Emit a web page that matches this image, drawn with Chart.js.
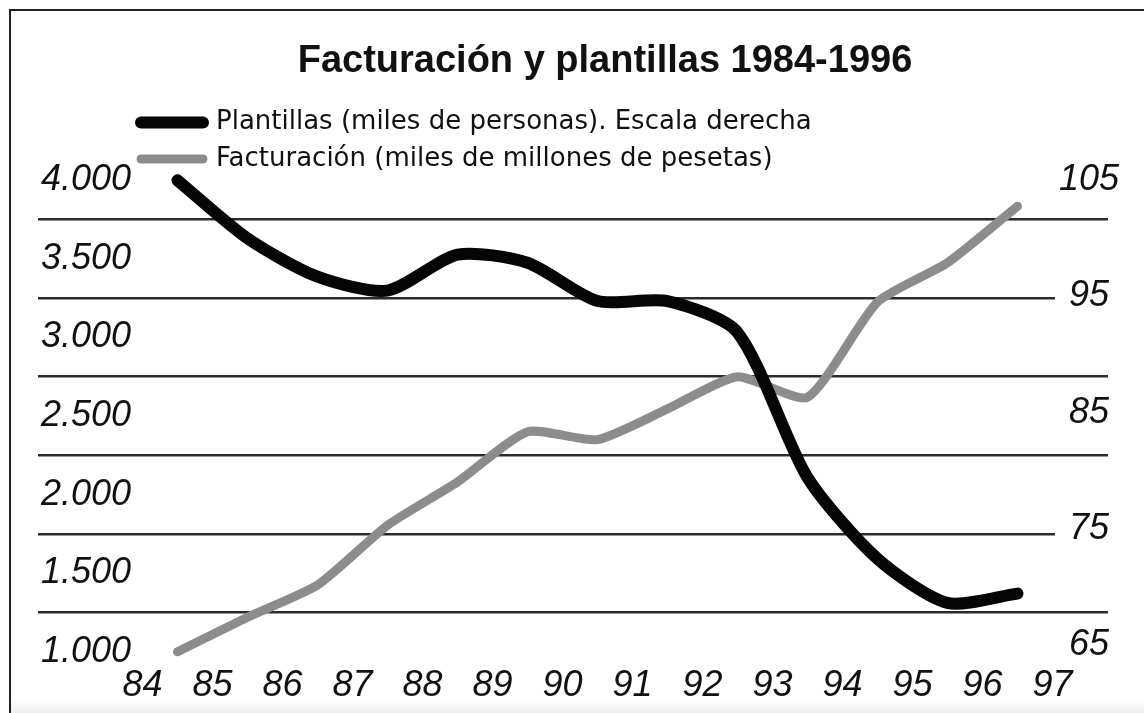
<!DOCTYPE html>
<html lang="es">
<head>
<meta charset="utf-8">
<title>Facturación y plantillas 1984-1996</title>
<script src="https://cdn.jsdelivr.net/npm/chart.js@4.4.1/dist/chart.umd.min.js"></script>
<style>
  html, body { margin: 0; padding: 0; background: #fff; }
  #marco { position: relative; width: 1144px; height: 713px; overflow: hidden; }
  #marco::before { content: ''; position: absolute; left: 9px; top: 9px; right: 0; bottom: 0;
    border-top: 2px solid #222; border-left: 2px solid #222; }
  #marco::after { content: ''; position: absolute; left: 11px; right: 0; bottom: 0; height: 14px;
    background: linear-gradient(#fff, #eeeeee); }
  canvas { position: absolute; left: 0; top: 0; }
</style>
</head>
<body>
<div id="marco"><canvas id="grafico" width="1144" height="713"></canvas></div>
<script>
// años: cada punto va a mitad de su año en el eje
const anios = [84, 85, 86, 87, 88, 89, 90, 91, 92, 93, 94, 95, 96];

// plantillas, miles de personas (escala derecha)
const plantillas = [105.0, 100.0, 96.7, 95.5, 98.6, 97.9, 94.6, 94.6, 91.9, 79.4, 72.4, 68.6, 69.4];

// facturación, miles de millones de pesetas (escala izquierda)
const facturacion = [1000, 1220, 1425, 1805, 2080, 2400, 2350, 2545, 2750, 2620, 3225, 3475, 3835];

const ticksX = [84, 85, 86, 87, 88, 89, 90, 91, 92, 93, 94, 95, 96, 97];
const ticksIzq = [1000, 1500, 2000, 2500, 3000, 3500, 4000];
const lineasGuia = [1250, 1750, 2250, 2750, 3250, 3750];
const ticksDer = [65, 75, 85, 95, 105];

function miles(v) {
  return String(v).replace(/\B(?=(\d{3})+(?!\d))/g, '.');
}

const fuenteEje = { family: "'Liberation Sans', Arial, sans-serif", size: 36, style: 'italic' };

// el título y la leyenda van desplazados respecto al área del gráfico
const recolocar = {
  id: 'recolocar',
  afterLayout(chart) {
    const t = chart.titleBlock;
    t.left += 24; t.right += 24;
    const l = chart.legend;
    l.left += 98.5; l.right += 98.5;
    l.top += 12; l.bottom += 12;
  }
};

const ctx = document.getElementById('grafico');

new Chart(ctx, {
  type: 'line',
  data: {
    datasets: [
      {
        label: 'Plantillas (miles de personas). Escala derecha',
        data: anios.map((a, i) => ({ x: a + 0.5, y: plantillas[i] })),
        yAxisID: 'yDer',
        borderColor: '#050505',
        backgroundColor: '#050505',
        borderWidth: 12,
        borderJoinStyle: 'round',
        borderCapStyle: 'round',
        tension: 0.25,
        pointRadius: 0,
        fill: false,
        clip: false
      },
      {
        label: 'Facturación (miles de millones de pesetas)',
        data: anios.map((a, i) => ({ x: a + 0.5, y: facturacion[i] })),
        yAxisID: 'yIzq',
        borderColor: '#8c8c8c',
        backgroundColor: '#8c8c8c',
        borderWidth: 9,
        borderJoinStyle: 'round',
        borderCapStyle: 'round',
        tension: 0.2,
        pointRadius: 0,
        fill: false,
        clip: false
      }
    ]
  },
  options: {
    responsive: false,
    animation: false,
    events: [],
    layout: { padding: { top: 10, left: 32, right: 14, bottom: 1.8 } },
    plugins: {
      title: {
        display: true,
        text: 'Facturación y plantillas 1984-1996',
        color: '#111',
        font: { family: "'Liberation Sans', Arial, sans-serif", size: 38, weight: 'bold' },
        padding: { top: 29.2, bottom: 2.2 }
      },
      legend: {
        display: true,
        align: 'start',
        labels: {
          color: '#111',
          font: { family: "'DejaVu Sans', sans-serif", size: 26 },
          boxWidth: 62,
          boxHeight: 0,
          padding: 10.5
        }
      },
      tooltip: { enabled: false }
    },
    scales: {
      x: {
        type: 'linear',
        min: 82.507,
        max: 97.793,
        afterBuildTicks: s => { s.ticks = ticksX.map(v => ({ value: v })); },
        grid: { display: false, drawTicks: false },
        border: { display: false },
        ticks: {
          color: '#111',
          font: fuenteEje,
          padding: 4,
          autoSkip: false,
          maxRotation: 0,
          callback: v => String(v)
        }
      },
      yIzq: {
        type: 'linear',
        position: 'left',
        min: 948,
        max: 4065,
        afterBuildTicks: s => {
          s.ticks = ticksIzq.concat(lineasGuia).sort((a, b) => a - b).map(v => ({ value: v }));
        },
        grid: {
          drawTicks: false,
          lineWidth: 2.6,
          color: c => (c.tick && lineasGuia.includes(c.tick.value)) ? '#2b2b2b' : 'rgba(0,0,0,0)'
        },
        border: { display: false },
        ticks: {
          mirror: true,
          crossAlign: 'near',
          padding: 3,
          autoSkip: false,
          color: '#111',
          font: fuenteEje,
          callback: v => ticksIzq.includes(v) ? miles(v) : ''
        }
      },
      yDer: {
        type: 'linear',
        position: 'right',
        min: 63.68,
        max: 105.89,
        afterBuildTicks: s => { s.ticks = ticksDer.map(v => ({ value: v })); },
        grid: { display: false, drawTicks: false },
        border: { display: false },
        ticks: {
          mirror: true,
          crossAlign: 'center',
          padding: 11,
          autoSkip: false,
          color: '#111',
          font: fuenteEje,
          showLabelBackdrop: true,
          backdropColor: '#fff',
          backdropPadding: { top: 0, bottom: 0, left: 14, right: 0 },
          callback: v => String(v)
        }
      }
    }
  },
  plugins: [recolocar]
});
</script>
</body>
</html>
